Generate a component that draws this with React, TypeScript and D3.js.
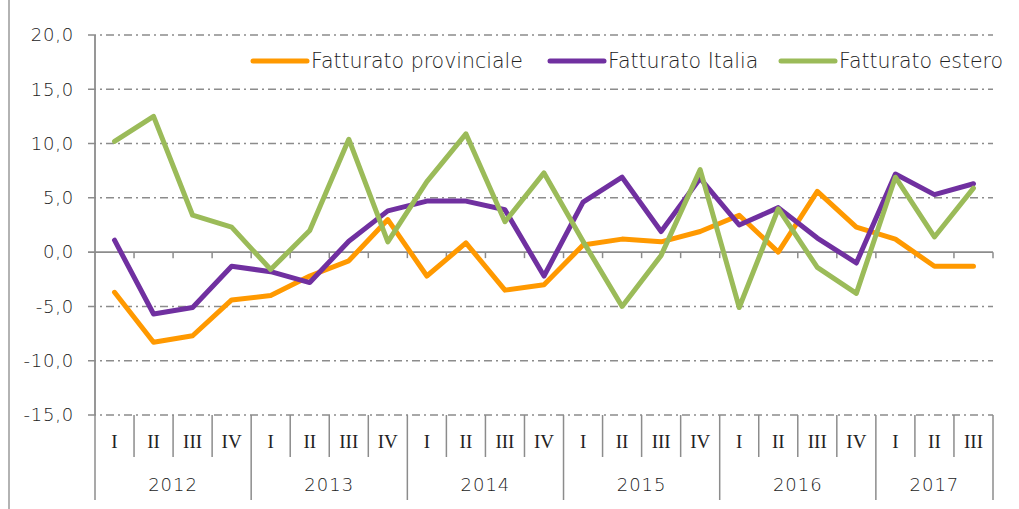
import React from "react";
import * as d3 from "d3";

const years = ["2012", "2013", "2014", "2015", "2016", "2017"];
const quarters = ["I","II","III","IV","I","II","III","IV","I","II","III","IV","I","II","III","IV","I","II","III","IV","I","II","III"];
const yearOfQuarter = [0,0,0,0,1,1,1,1,2,2,2,2,3,3,3,3,4,4,4,4,5,5,5];

const provinciale = [-3.7,-8.3,-7.7,-4.4,-4.0,-2.2,-0.8,3.0,-2.2,0.85,-3.5,-3.0,0.65,1.2,0.95,1.9,3.4,0.0,5.6,2.3,1.2,-1.3,-1.3];
const italia = [1.1,-5.7,-5.1,-1.3,-1.8,-2.8,1.0,3.8,4.7,4.7,3.9,-2.2,4.6,6.9,1.9,6.8,2.5,4.1,1.3,-1.0,7.2,5.3,6.3];
const estero = [10.2,12.5,3.4,2.3,-1.6,2.0,10.4,0.95,6.5,10.9,2.8,7.3,1.0,-5.0,-0.3,7.6,-5.1,4.0,-1.4,-3.8,6.9,1.4,5.9];

const seriesNames = ["Fatturato provinciale", "Fatturato Italia", "Fatturato estero"];
const seriesColors = ["#FF9900", "#7030A0", "#9BBB59"];
const yTicks = [20, 15, 10, 5, 0, -5, -10, -15];

export default function App() {
  const W = 1019, H = 509;
  const left = 95, right = 993, top = 35, bottom = 415;
  const x = d3.scaleBand<number>().domain(quarters.map((_, i) => i)).range([left, right]).paddingInner(0).paddingOuter(0);
  const y = d3.scaleLinear().domain([-15, 20]).range([bottom, top]);
  const xc = (i: number) => (x(i) as number) + x.bandwidth() / 2;
  const line = d3.line<number>().x((_, i) => xc(i)).y(d => y(d));
  const allSeries = [provinciale, italia, estero];
  const grid = "#8c8c8c";
  const font = "'DejaVu Sans', sans-serif";

  const legendX = [253, 550, 781];

  return (
    <svg width={W} height={H} style={{ position: "absolute", left: 0, top: 0 }}>
      <rect x={0} y={0} width={W} height={H} fill="#fff" />
      <line x1={9} x2={9} y1={0} y2={H} stroke="#9a9a9a" strokeWidth={1.5} />
      {yTicks.map(t => (
        <g key={t}>
          {t !== 0 && (
            <line x1={88} x2={right} y1={y(t)} y2={y(t)} stroke={grid} strokeWidth={1.5} strokeDasharray="8,4,2,4" />
          )}
          <text x={74} y={y(t)} dy="0.35em" textAnchor="end" fontFamily={font} fontWeight={300} fontSize={18} letterSpacing={0.8} fill="#222">
            {d3.format(".1f")(t).replace(".", ",").replace("−", "-")}
          </text>
        </g>
      ))}
      <line x1={88} x2={right} y1={y(0)} y2={y(0)} stroke={grid} strokeWidth={1.8} />
      {quarters.map((_, i) => (
        <line key={"zt" + i} x1={(x(i) as number) + x.bandwidth()} x2={(x(i) as number) + x.bandwidth()} y1={y(0)} y2={y(0) + 6} stroke={grid} strokeWidth={1.5} />
      ))}
      <line x1={left} x2={left} y1={top} y2={bottom} stroke={grid} strokeWidth={1.8} />
      {quarters.map((_, i) => {
        const bx = x(i) as number;
        const isYearStart = i === 0 || yearOfQuarter[i] !== yearOfQuarter[i - 1];
        return (
          <line key={"qb" + i} x1={bx} x2={bx} y1={bottom} y2={isYearStart ? 500 : 457} stroke={grid} strokeWidth={1.5} />
        );
      })}
      <line x1={right} x2={right} y1={bottom} y2={500} stroke={grid} strokeWidth={1.5} />
      {quarters.map((q, i) => (
        <text key={"ql" + i} x={xc(i)} y={441} dy="0.35em" textAnchor="middle" fontFamily="'Liberation Serif', serif" fontSize={19} fill="#222">{q}</text>
      ))}
      {years.map((yr, k) => {
        const idx = quarters.map((_, i) => i).filter(i => yearOfQuarter[i] === k);
        const x0 = x(idx[0]) as number;
        const x1 = (x(idx[idx.length - 1]) as number) + x.bandwidth();
        return (
          <text key={yr} x={(x0 + x1) / 2} y={485} dy="0.35em" textAnchor="middle" fontFamily={font} fontWeight={300} fontSize={18} letterSpacing={1} fill="#222">{yr}</text>
        );
      })}
      {allSeries.map((s, k) => (
        <path key={"s" + k} d={line(s) || ""} fill="none" stroke={seriesColors[k]} strokeWidth={5} strokeLinejoin="round" strokeLinecap="round" />
      ))}
      {seriesNames.map((n, k) => (
        <g key={n}>
          <line x1={legendX[k]} x2={legendX[k] + 54} y1={61} y2={61} stroke={seriesColors[k]} strokeWidth={5} strokeLinecap="round" />
          <text x={legendX[k] + 58} y={61} dy="0.35em" fontFamily={font} fontWeight={300} fontSize={20.5} fill="#222">{n}</text>
        </g>
      ))}
    </svg>
  );
}
